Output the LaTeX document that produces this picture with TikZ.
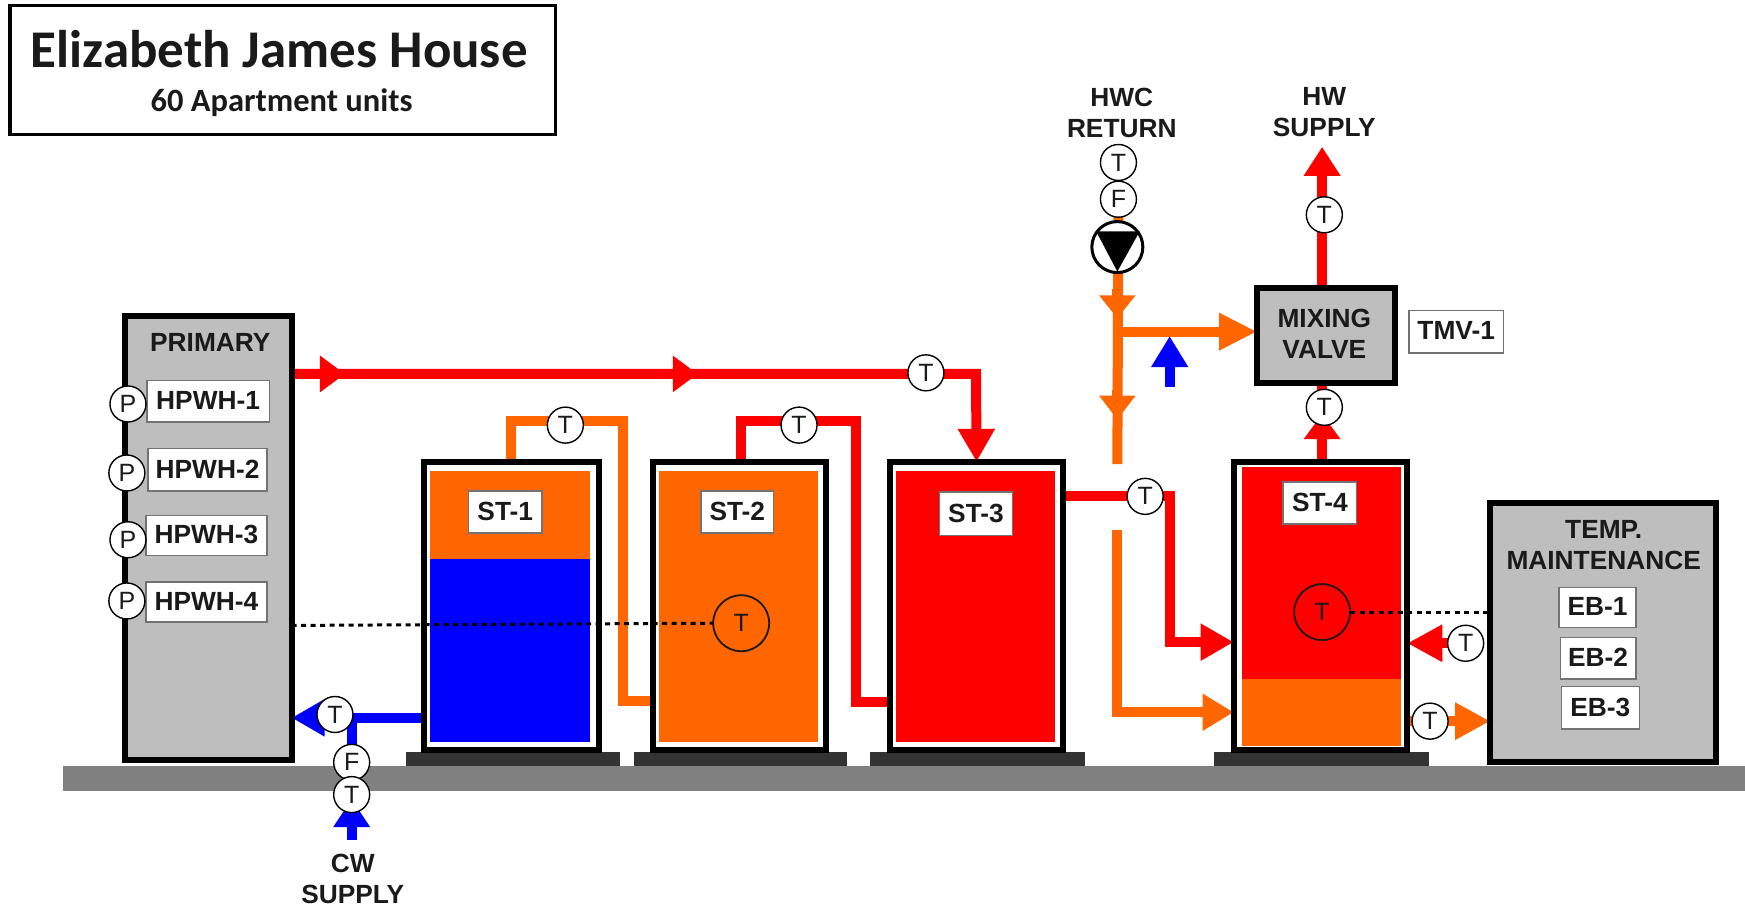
\documentclass[tikz,border=0pt]{standalone}
\usepackage{fontspec}
\setmainfont{Liberation Sans}
\newfontfamily\titlefont{Carlito}
\usetikzlibrary{arrows.meta}
\pgfdeclarelayer{pipes}
\pgfsetlayers{pipes,main}
\definecolor{hot}{HTML}{FF0000}
\definecolor{warm}{HTML}{FF6600}
\definecolor{cold}{HTML}{0000FF}
\definecolor{panel}{HTML}{BEBEBE}
\definecolor{floorgray}{HTML}{808080}
\definecolor{plinthgray}{HTML}{333333}
\definecolor{ink}{HTML}{1A1A1A}
\newcommand\rnode[7]{%
  \pgfmathsetmacro\rcx{(#3+#5)/2}\pgfmathsetmacro\rcy{(#4+#6)/2}%
  \pgfmathsetmacro\rww{(#5-#3)*1.1129}\pgfmathsetmacro\rhh{(#6-#4)*1.1129}%
  \node[#2,minimum width=\rww pt,minimum height=\rhh pt] (#1) at (\rcx,\rcy) {\raisebox{1.5pt}{#7}};}
\tikzset{
  every node/.style={inner sep=0pt,outer sep=0pt},
  lbl/.style={font=\fontsize{26.3}{31}\selectfont\bfseries,text=ink,align=center},
  tagbox/.style={lbl,draw=black!55,line width=1.5pt,fill=white},
  heavybox/.style={draw=black,line width=6pt},
  panelbox/.style={heavybox,fill=panel},
  tank/.style={heavybox,fill=white},
  sensor/.style={circle,draw=black,line width=1.4pt,fill=white,minimum size=36pt,font=\fontsize{25}{25}\selectfont,text=ink},
  bigsensor/.style={circle,draw=ink,line width=1.8pt,minimum size=56pt,font=\fontsize{25}{25}\selectfont,text=ink},
  pipe/.style={line width=10pt},
  tip/.style={-{Triangle[length=#1,width=35pt]}},
  tip/.default=33pt,
  ctrl/.style={draw=black,line width=3pt,dash pattern=on 5pt off 4.5pt},
}
\begin{document}
\begin{tikzpicture}[x=1.1129pt,y=-1.1129pt]
\useasboundingbox (0,0) rectangle (1568,814);
% title
\rnode{titlebox}{draw=black,line width=3.5pt,fill=white}{9}{5}{499}{121}{}
\node[font=\titlefont\fontsize{53}{53}\selectfont\bfseries,text=ink] (titletext) at (251,44) {Elizabeth James House};
\node[font=\titlefont\fontsize{32.5}{32.5}\selectfont\bfseries,text=ink] (subtitle) at (253,92) {60 Apartment units};
% main boxes
\rnode{prim}{panelbox}{112}{284}{262}{683}{}
\rnode{st1}{tank}{381}{415}{538}{674}{}
\rnode{st2}{tank}{586.5}{415}{742}{674}{}
\rnode{st3}{tank}{799.5}{415}{955.5}{674}{}
\rnode{st4}{tank}{1108.5}{415}{1264.5}{674}{}
\rnode{temp}{panelbox}{1339}{452}{1542}{685}{}
\rnode{mix}{panelbox}{1129.5}{258.5}{1253.5}{344}{}
% tank fills
\rnode{st1top}{fill=warm}{386.5}{423}{530.5}{502}{}
\rnode{st1low}{fill=cold}{386.5}{502}{530.5}{667}{}
\rnode{st2fill}{fill=warm}{592}{423}{735}{667}{}
\rnode{st3fill}{fill=hot}{805}{423}{948}{667}{}
\rnode{st4top}{fill=hot}{1116}{420}{1259}{610}{}
\rnode{st4low}{fill=warm}{1116}{610}{1259}{670}{}
% tags
\rnode{h1}{tagbox}{132}{342}{242}{379}{HPWH-1}
\rnode{h2}{tagbox}{133}{403}{240}{441}{HPWH-2}
\rnode{h3}{tagbox}{131}{463}{240}{499}{HPWH-3}
\rnode{h4}{tagbox}{131}{523}{240}{559}{HPWH-4}
\rnode{l1}{tagbox}{421}{441}{487}{479}{ST-1}
\rnode{l2}{tagbox}{630}{441}{695}{479}{ST-2}
\rnode{l3}{tagbox}{844}{442}{910}{481}{ST-3}
\rnode{l4}{tagbox}{1153}{433}{1219}{471}{ST-4}
\rnode{tmv}{tagbox}{1266}{279}{1351}{317}{TMV-1}
\rnode{eb1}{tagbox}{1401}{528}{1470}{564}{EB-1}
\rnode{eb2}{tagbox}{1402}{573}{1470}{610}{EB-2}
\rnode{eb3}{tagbox}{1403}{617}{1473}{655}{EB-3}
% labels
\node[lbl] (primlabel) at (189,308) {PRIMARY};
\node[lbl] (templabel) at (1441,490) {TEMP.\\MAINTENANCE};
\node[lbl] (mixlabel) at (1190,300) {MIXING\\VALVE};
\node[lbl] (hwclabel) at (1008,101.5) {HWC\\RETURN};
\node[lbl] (hwlabel) at (1190,101) {HW\\SUPPLY};
\node[lbl] (cwlabel) at (317,790) {CW\\SUPPLY};
% sensors
\node[sensor] (p1) at (115,363) {P};
\node[sensor] (p2) at (114,425) {P};
\node[sensor] (p3) at (115,485) {P};
\node[sensor] (p4) at (114,540) {P};
\node[sensor] (t1) at (508,382) {T};
\node[sensor] (t2) at (718,382) {T};
\node[sensor] (t3) at (832,335) {T};
\node[sensor] (t4) at (1029,446) {T};
\node[sensor] (t5) at (1190,366) {T};
\node[sensor] (t6) at (1190,193) {T};
\node[sensor] (t7) at (1005,146) {T};
\node[sensor] (f1) at (1005,179) {F};
\node[sensor] (t8) at (1317,578) {T};
\node[sensor] (t9) at (1285,648) {T};
\node[sensor] (t10) at (301,642) {T};
\node[sensor] (f2) at (316,685) {F};
\node[sensor] (t11) at (316,714) {T};
\node[bigsensor] (bt1) at (666,560) {\raisebox{-3pt}{T}};
\node[bigsensor] (bt2) at (1188,550) {\raisebox{-3pt}{T}};
% pump
\node[circle,draw=black,line width=3pt,fill=white,minimum size=51pt] (pump) at (1004,222) {};
\fill[black] (985,208) -- (1024,208) -- (1004,244) -- cycle;
% control lines
\draw[ctrl] (prim.east |- 0,562) -- (bt1.west);
\draw[ctrl] (bt2.east) -- (temp.west |- bt2);
% coordinates
\coordinate (a1) at (280,336);
\coordinate (a1t) at (310,336);
\coordinate (a2) at (597,336);
\coordinate (a2t) at (627,336);
\coordinate (c3) at (877,336);
\coordinate (c1a) at (560,378);
\coordinate (c1b) at (560,630);
\coordinate (s2) at (666,415);
\coordinate (c2a) at (769,378);
\coordinate (c2b) at (769,631);
\coordinate (r1) at (1051,446);
\coordinate (r2) at (1051,577);
\coordinate (trunk) at (1004,298);
\coordinate (o0) at (1004,260);
\coordinate (o1) at (1004,286);
\coordinate (o2a) at (1004,350);
\coordinate (o2) at (1004,377);
\coordinate (o3) at (1004,417);
\coordinate (o4) at (1004,476);
\coordinate (o5) at (1004,640);
\coordinate (cwj) at (316,645);
\coordinate (cwin) at (316,755);
\coordinate (cwt) at (316,718);
\coordinate (hwx) at (1188,132);
\coordinate (st4o) at (1188,372);
\coordinate (mb) at (1051,348);
\coordinate (mt) at (1051,302);
\begin{pgfonlayer}{pipes}
  \fill[floorgray] (57,688) rectangle (1568,711);
  \fill[plinthgray] (365,676) rectangle (557,688);
  \fill[plinthgray] (570,676) rectangle (761,688);
  \fill[plinthgray] (782,676) rectangle (975,688);
  \fill[plinthgray] (1091,676) rectangle (1284,688);
  % primary flow
  \draw[pipe,hot,tip] (prim.east |- a1) -- (c3) -- (st3.north);
  \draw[pipe,hot,tip=25pt] (a1) -- (a1t);
  \draw[pipe,hot,tip=25pt] (a2) -- (a2t);
  % tank links
  \draw[pipe,warm] (st1.north) |- (c1a) -- (c1b) -- (c1b -| st2.west);
  \draw[pipe,hot] (s2) |- (c2a) -- (c2b) -- (c2b -| st3.west);
  \draw[pipe,hot,tip] (st3.east |- t4) -- (r1) -- (r2) -- (st4.west |- r2);
  % return
  \draw[pipe,warm] (f1.center) -- (o3);
  \draw[pipe,warm,tip=23pt] (o0) -- (o1);
  \draw[pipe,warm,tip=24pt] (o2a) -- (o2);
  \draw[pipe,warm,tip=31pt] (o4) -- (o5) -- (st4.west |- o5);
  \draw[pipe,warm,tip=38pt] (trunk) -- (mix.west |- trunk);
  \draw[pipe,cold,tip=31pt] (mb) -- (mt);
  % outlet
  \draw[pipe,hot,tip=29pt] (hwx |- mix.north) -- (hwx);
  \draw[pipe,hot] (st4o |- st4.north) -- (st4o |- mix.south);
  \draw[pipe,hot,tip=25pt] (st4o |- st4.north) -- (st4o);
  % temperature maintenance
  \draw[pipe,hot,tip=35pt] (t8.center) -- (st4.east |- t8);
  \draw[pipe,warm,tip=35pt] (st4.east |- t9) -- (temp.west |- t9);
  % cold
  \draw[pipe,cold,tip] (st1.west |- cwj) -- (prim.east |- cwj);
  \draw[pipe,cold] (cwj) -- (t11.center);
  \draw[pipe,cold,tip=28pt] (cwin) -- (cwt);
\end{pgfonlayer}
\end{tikzpicture}
\end{document}
